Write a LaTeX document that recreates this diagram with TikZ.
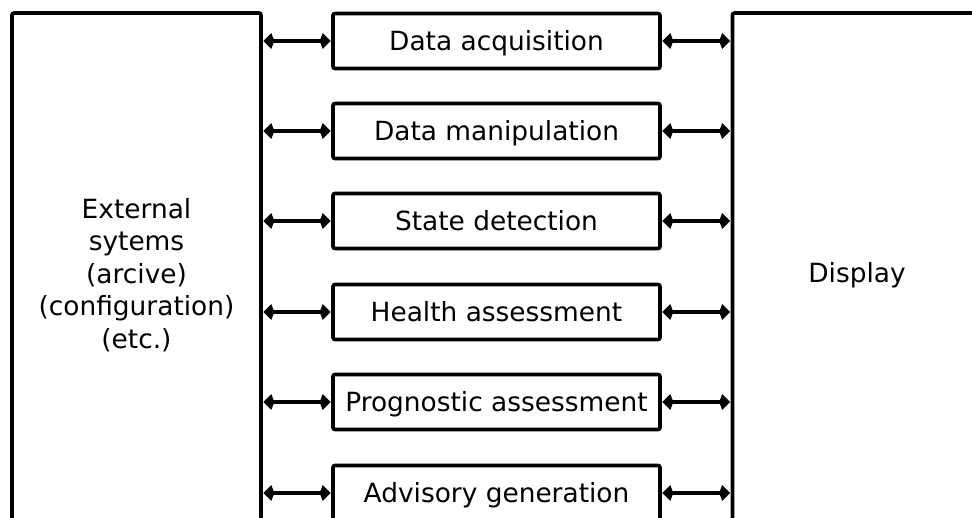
\documentclass[tikz,border=0pt]{standalone}
\usepackage{fontspec}
\setmainfont{DejaVu Sans}
\usetikzlibrary{arrows.meta}
\begin{document}
\begin{tikzpicture}[x=1pt,y=-1pt,
  txt/.style={font=\fontsize{26.4}{32.5}\selectfont},
  bigbox/.style={draw,line width=3.6pt,rounded corners=2pt,minimum width=249pt,minimum height=524pt,align=center,inner sep=0pt,txt},
  midbox/.style={draw,line width=3.6pt,rounded corners=2pt,minimum width=327pt,minimum height=55pt,inner sep=0pt,text height=20pt,text depth=2pt,txt},
  conn/.style={line width=3.6pt,{Kite[length=11pt,width=16pt,inset=3pt]}-{Kite[length=11pt,width=16pt,inset=3pt]},shorten <=0.5pt,shorten >=0.5pt}]
\useasboundingbox (0,0) rectangle (972,517);
\clip (0,0) rectangle (972,517);
\node[bigbox] (ext) at (136.5,275) {External\\sytems\\(arcive)\\(configuration)\\(etc.)};
\node[bigbox] (disp) at (857,275) {Display};
\foreach \n/\y/\t in {m1/41/Data acquisition,m2/131/Data manipulation,m3/221/State detection,m4/312/Health assessment,m5/402/Prognostic assessment,m6/493/Advisory generation}{
  \node[midbox] (\n) at (496.5,\y) {\t};
  \draw[conn] (ext.east |- \n.west) -- (\n.west);
  \draw[conn] (\n.east) -- (disp.west |- \n.east);
}
\end{tikzpicture}
\end{document}
